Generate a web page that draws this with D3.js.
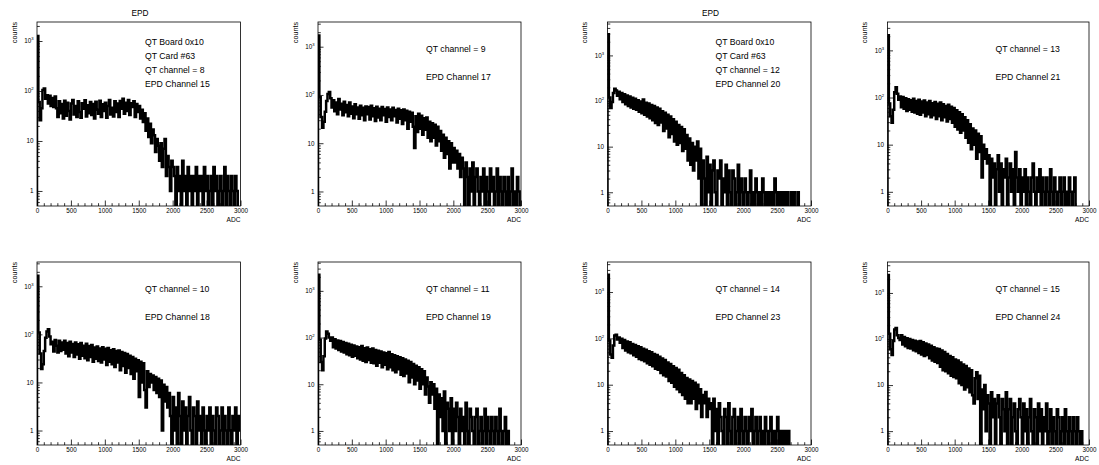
<!DOCTYPE html>
<html>
<head>
<meta charset="utf-8">
<script src="https://cdn.jsdelivr.net/npm/d3@7/dist/d3.min.js"></script>
<style>
  body { margin: 0; background: #fff; }
  text { font-family: "Liberation Sans", Arial, Helvetica, sans-serif; fill: #000; }
</style>
</head>
<body>
<div id="viz"></div>
<script>
// ADC spectra, 20 ADC per bin, 0..3000 (150 bins)
var binWidth = 20,
    adcMax = 3000;

var ch15 = [
  1260, 60, 26, 45, 105, 112, 70, 82, 56, 80,
  50, 72, 48, 78, 45, 30, 62, 36, 55, 28,
  64, 32, 58, 40, 27, 56, 66, 34, 50, 30,
  62, 38, 29, 57, 44, 65, 31, 52, 36, 60,
  33, 55, 28, 61, 42, 35, 64, 30, 54, 40,
  58, 29, 50, 66, 34, 46, 31, 62, 38, 56,
  30, 63, 44, 70, 35, 58, 40, 66, 33, 57,
  48, 62, 30, 55, 38, 50, 28, 42, 24, 36,
  16, 28, 12, 22, 9, 17, 13, 6, 11, 8,
  4, 9, 3, 7, 11, 2, 5, 3, 1, 4,
  3, 2, 0, 3, 1, 2, 0, 4, 1, 2,
  0, 3, 1, 2, 0, 2, 1, 3, 0, 2,
  1, 2, 0, 3, 1, 2, 0, 1, 2, 0,
  3, 1, 2, 0, 1, 2, 0, 1, 3, 0,
  2, 1, 0, 2, 1, 0, 2, 1, 0, 0
];
var ch17 = [
  1700, 90, 35, 21, 28, 45, 75, 105, 115, 85,
  55, 78, 46, 70, 40, 82, 50, 66, 38, 72,
  44, 62, 36, 70, 41, 58, 33, 64, 40, 55,
  32, 60, 38, 54, 30, 58, 40, 56, 31, 60,
  36, 53, 29, 57, 34, 52, 30, 56, 38, 51,
  28, 55, 35, 50, 30, 54, 36, 49, 27, 52,
  32, 48, 25, 50, 30, 47, 20, 45, 28, 43,
  22, 8, 36, 17, 41, 20, 37, 15, 33, 19,
  34, 13, 28, 11, 26, 13, 24, 9, 22, 11,
  18, 7, 15, 5, 13, 6, 11, 3, 10, 4,
  8, 4, 7, 3, 6, 2, 5, 3, 0, 4,
  2, 0, 3, 1, 4, 0, 2, 3, 1, 0,
  2, 1, 3, 0, 2, 1, 0, 3, 1, 2,
  0, 1, 3, 0, 2, 1, 0, 2, 1, 0,
  2, 0, 1, 3, 0, 1, 0, 2, 1, 0
];
var ch20 = [
  2900, 120, 70, 95, 150, 185, 170, 130, 160, 110,
  150, 95, 140, 85, 132, 78, 125, 72, 118, 68,
  112, 64, 104, 58, 98, 54, 108, 50, 92, 46,
  88, 42, 82, 38, 78, 33, 72, 30, 68, 34,
  60, 22, 55, 25, 50, 16, 46, 19, 40, 13,
  35, 11, 30, 12, 27, 8, 24, 9, 18, 5,
  15, 4, 12, 3, 10, 5, 13, 2, 9, 0,
  5, 2, 0, 6, 1, 4, 0, 3, 5, 1,
  0, 3, 2, 5, 0, 2, 1, 4, 0, 3,
  1, 0, 3, 2, 0, 1, 4, 0, 2, 1,
  0, 2, 1, 0, 1, 3, 0, 1, 0, 2,
  1, 0, 1, 0, 2, 1, 0, 1, 0, 1,
  0, 1, 0, 2, 1, 0, 1, 0, 1, 0,
  1, 0, 1, 0, 0, 1, 0, 1, 0, 0,
  1, 0, 0, 0, 0, 0, 0, 0, 0, 0
];
var ch21 = [
  2100, 75, 40, 29, 55, 130, 165, 120, 90, 105,
  62, 102, 58, 96, 52, 92, 55, 88, 50, 94,
  48, 84, 45, 90, 43, 82, 48, 86, 40, 78,
  44, 84, 38, 76, 42, 80, 35, 74, 40, 78,
  33, 72, 38, 66, 31, 70, 35, 64, 29, 60,
  24, 54, 21, 49, 18, 44, 20, 38, 14, 33,
  11, 27, 8, 22, 10, 20, 5, 17, 7, 15,
  2, 10, 5, 8, 4, 6, 0, 5, 2, 4,
  0, 3, 6, 1, 4, 0, 3, 2, 5, 0,
  2, 4, 1, 3, 0, 7, 2, 1, 3, 0,
  2, 1, 3, 0, 2, 1, 0, 2, 4, 1,
  0, 2, 1, 3, 0, 2, 1, 0, 2, 1,
  0, 3, 1, 0, 2, 1, 0, 1, 2, 0,
  1, 2, 0, 1, 0, 2, 1, 0, 1, 2,
  0, 0, 0, 0, 0, 0, 0, 0, 0, 0
];
var ch18 = [
  1650, 110, 40, 19, 24, 45, 85, 115, 128, 90,
  62, 70, 44, 76, 58, 42, 74, 45, 68, 48,
  74, 40, 66, 35, 70, 42, 63, 34, 68, 38,
  62, 31, 66, 36, 58, 32, 64, 29, 57, 34,
  60, 27, 53, 31, 56, 28, 51, 26, 54, 30,
  50, 23, 52, 27, 47, 24, 49, 21, 45, 26,
  46, 18, 43, 22, 41, 16, 39, 20, 36, 15,
  34, 12, 31, 17, 29, 5, 27, 10, 25, 7,
  3, 17, 8, 15, 10, 14, 7, 13, 6, 12,
  5, 11, 1, 9, 4, 8, 3, 6, 2, 0,
  5, 1, 3, 0, 6, 2, 0, 4, 1, 3,
  0, 2, 5, 1, 0, 3, 2, 0, 4, 1,
  2, 0, 3, 1, 0, 2, 1, 3, 0, 2,
  1, 0, 3, 2, 0, 1, 3, 0, 2, 1,
  0, 3, 1, 0, 2, 1, 3, 0, 2, 1
];
var ch19 = [
  2200, 90, 30, 20, 40, 95, 135, 120, 100, 85,
  100, 62, 92, 58, 86, 54, 84, 50, 80, 48,
  76, 44, 74, 42, 70, 39, 68, 41, 64, 36,
  62, 34, 66, 32, 59, 30, 61, 33, 56, 29,
  58, 28, 54, 25, 52, 29, 50, 23, 48, 26,
  46, 21, 49, 23, 44, 20, 42, 18, 40, 21,
  38, 16, 36, 15, 34, 17, 32, 11, 30, 14,
  27, 10, 25, 12, 23, 8, 21, 10, 19, 6,
  14, 9, 4, 11, 6, 10, 3, 8, 0, 6,
  2, 5, 1, 7, 0, 4, 3, 1, 5, 0,
  3, 1, 4, 2, 0, 3, 1, 2, 0, 4,
  1, 0, 3, 2, 1, 0, 2, 3, 0, 1,
  2, 0, 1, 3, 0, 2, 1, 0, 2, 1,
  0, 2, 1, 0, 3, 1, 0, 1, 2, 0,
  1, 0, 0, 0, 0, 0, 0, 0, 0, 0
];
var ch23 = [
  2350, 90, 45, 38, 70, 115, 120, 95, 105, 80,
  98, 62, 92, 55, 86, 50, 82, 48, 76, 43,
  72, 40, 68, 36, 64, 34, 60, 32, 57, 29,
  53, 27, 50, 25, 46, 22, 44, 21, 40, 18,
  37, 16, 34, 15, 30, 12, 28, 11, 25, 9,
  23, 8, 21, 7, 18, 6, 16, 5, 14, 4,
  13, 4, 12, 5, 11, 3, 10, 4, 8, 2,
  6, 4, 7, 2, 5, 3, 4, 0, 5, 1,
  3, 0, 4, 2, 1, 0, 3, 2, 0, 4,
  1, 0, 2, 3, 0, 1, 2, 0, 3, 1,
  0, 2, 1, 0, 2, 1, 3, 0, 1, 2,
  0, 1, 2, 0, 1, 0, 2, 1, 0, 1,
  2, 0, 1, 0, 1, 2, 0, 1, 0, 1,
  0, 1, 0, 1, 0, 0, 0, 0, 0, 0,
  0, 0, 0, 0, 0, 0, 0, 0, 0, 0
];
var ch24 = [
  2450, 130, 60, 45, 90, 160, 173, 120, 105, 95,
  120, 76, 110, 70, 104, 64, 100, 62, 95, 57,
  92, 54, 88, 50, 90, 46, 85, 43, 80, 45,
  76, 38, 71, 34, 66, 32, 62, 30, 61, 25,
  56, 21, 52, 20, 47, 18, 43, 16, 40, 15,
  36, 14, 34, 11, 31, 10, 28, 8, 26, 9,
  23, 7, 21, 6, 4, 14, 19, 5, 16, 0,
  8, 3, 10, 1, 6, 4, 0, 7, 2, 5,
  0, 4, 6, 2, 0, 5, 3, 1, 7, 0,
  3, 5, 0, 2, 4, 1, 0, 3, 5, 2,
  0, 4, 1, 3, 0, 2, 5, 1, 0, 3,
  2, 0, 4, 1, 3, 0, 2, 1, 4, 0,
  1, 3, 0, 2, 1, 0, 3, 2, 0, 1,
  2, 0, 3, 1, 0, 2, 1, 0, 2, 1,
  0, 2, 1, 0, 1, 0, 0, 0, 0, 0
];

// pave texts and titles
var titles = ["EPD", "", "EPD", "", "", "", "", ""];
var paveLines = [
  ["QT Board 0x10", "QT Card #63", "QT channel = 8", "EPD Channel 15"],
  ["QT channel = 9", "EPD Channel 17"],
  ["QT Board 0x10", "QT Card #63", "QT channel = 12", "EPD Channel 20"],
  ["QT channel = 13", "EPD Channel 21"],
  ["QT channel = 10", "EPD Channel 18"],
  ["QT channel = 11", "EPD Channel 19"],
  ["QT channel = 14", "EPD Channel 23"],
  ["QT channel = 15", "EPD Channel 24"]
];
var spectra = [ch15, ch17, ch20, ch21, ch18, ch19, ch23, ch24];
// y axis maximum of each pad (log scale, minimum is 0.5)
var yMaxes = [2400, 3250, 5400, 4000, 3200, 4150, 4450, 4700];
var yMin = 0.5;
var xTicks = [0, 500, 1000, 1500, 2000, 2500, 3000];

// frame geometry
var width = 1099, height = 465;
var colLeft = [37, 318, 607.5, 887.5],
    colRight = [240.5, 521, 811, 1089],
    rowTop = [22, 262],
    rowBottom = [206, 445];

var svg = d3.select("#viz").append("svg")
            .attr("width", width)
            .attr("height", height);

svg.append("rect").attr("width", width).attr("height", height).attr("fill", "#fff");

var defs = svg.append("defs");

spectra.forEach(function(counts, p) {
    var col = p % 4, row = Math.floor(p / 4);
    var x0 = colLeft[col], x1 = colRight[col],
        y0 = rowTop[row], y1 = rowBottom[row];

    var xScale = d3.scaleLinear().domain([0, adcMax]).range([x0, x1]);
    var yScale = d3.scaleLog().domain([yMin, yMaxes[p]]).range([y1, y0]);

    var g = svg.append("g").attr("class", "pad");

    defs.append("clipPath").attr("id", "clip" + p)
        .append("rect")
        .attr("x", x0).attr("y", y0)
        .attr("width", x1 - x0).attr("height", y1 - y0);

    // histogram as a step line
    var pts = [[0, yMin / 4]];
    counts.forEach(function(v, i) { pts.push([i * binWidth, v]); });
    pts.push([counts.length * binWidth, counts[counts.length - 1]]);

    var line = d3.line()
                 .x(function(d) { return xScale(d[0]); })
                 .y(function(d) { return yScale(Math.max(d[1], yMin / 4)); })
                 .curve(d3.curveStepAfter);

    g.append("path")
     .attr("clip-path", "url(#clip" + p + ")")
     .attr("d", line(pts))
     .attr("fill", "none")
     .attr("stroke", "#000")
     .attr("stroke-width", 2.5)
     .attr("stroke-linejoin", "miter");

    // frame
    g.append("rect")
     .attr("x", x0).attr("y", y0)
     .attr("width", x1 - x0).attr("height", y1 - y0)
     .attr("fill", "none")
     .attr("stroke", "#000")
     .attr("stroke-width", 0.8);

    // x axis: major ticks every 500, minor every 100, ticks pointing inward
    var xAxis = d3.axisBottom(xScale).tickValues(xTicks).tickSize(-5.5)
                  .tickPadding(3).tickFormat(d3.format("d"));
    var xg = g.append("g").attr("transform", "translate(0," + y1 + ")").call(xAxis);
    xg.select(".domain").remove();
    xg.selectAll("line").attr("stroke", "#000").attr("stroke-width", 0.8);
    xg.selectAll("text").attr("font-size", 6.3).attr("dy", "0.71em")
      .style("font-family", '"Liberation Sans", Arial, sans-serif');

    var minorX = d3.range(100, adcMax, 100).filter(function(v) { return v % 500; });
    var xmg = g.append("g").attr("transform", "translate(0," + y1 + ")")
               .call(d3.axisBottom(xScale).tickValues(minorX).tickSize(-2.8).tickFormat(""));
    xmg.select(".domain").remove();
    xmg.selectAll("line").attr("stroke", "#000").attr("stroke-width", 0.8);

    // y axis: log decades with minor ticks
    var decades = [1, 10, 100, 1000].filter(function(v) { return v <= yMaxes[p]; });
    var minorY = [];
    [0.1, 1, 10, 100, 1000].forEach(function(dec) {
        for (var k = 2; k <= 9; k++) {
            var v = dec * k;
            if (v > yMin && v < yMaxes[p]) minorY.push(v);
        }
    });
    var yg = g.append("g").attr("transform", "translate(" + x0 + ",0)")
              .call(d3.axisLeft(yScale).tickValues(decades).tickSize(-5.5).tickPadding(3).tickFormat(""));
    yg.select(".domain").remove();
    yg.selectAll("line").attr("stroke", "#000").attr("stroke-width", 0.8);
    var ymg = g.append("g").attr("transform", "translate(" + x0 + ",0)")
               .call(d3.axisLeft(yScale).tickValues(minorY).tickSize(-2.8).tickFormat(""));
    ymg.select(".domain").remove();
    ymg.selectAll("line").attr("stroke", "#000").attr("stroke-width", 0.8);

    // decade labels: 1, 10, 10^2, 10^3
    decades.forEach(function(v) {
        var e = Math.round(Math.log10(v));
        var t = g.append("text")
                 .attr("x", x0 - 3.5)
                 .attr("y", yScale(v) + 2.3)
                 .attr("text-anchor", "end")
                 .attr("font-size", 6.3);
        if (e < 2) {
            t.text(String(v));
        } else {
            t.append("tspan").text("10");
            t.append("tspan").attr("font-size", 4.2).attr("dy", -3).text(String(e));
        }
    });

    // axis titles
    g.append("text")
     .attr("x", x1).attr("y", y1 + 16.3)
     .attr("text-anchor", "end")
     .attr("font-size", 6.6)
     .text("ADC");
    g.append("text")
     .attr("transform", "translate(" + (x0 - 20.5) + "," + y0 + ") rotate(-90)")
     .attr("text-anchor", "end")
     .attr("font-size", 7.2)
     .text("counts");

    // pad title
    if (titles[p]) {
        g.append("text")
         .attr("x", x0 + 103).attr("y", y0 - 6.5)
         .attr("text-anchor", "middle")
         .attr("font-size", 8.3)
         .text(titles[p]);
    }

    // pave text
    var lines = paveLines[p];
    var boxTop = y0 + 12.6, boxH = 56.8;
    lines.forEach(function(s, i) {
        g.append("text")
         .attr("x", x0 + 108)
         .attr("y", boxTop + (i + 0.5) * boxH / lines.length + 3.1)
         .attr("font-size", 8.7)
         .text(s);
    });
});
</script>
</body>
</html>
